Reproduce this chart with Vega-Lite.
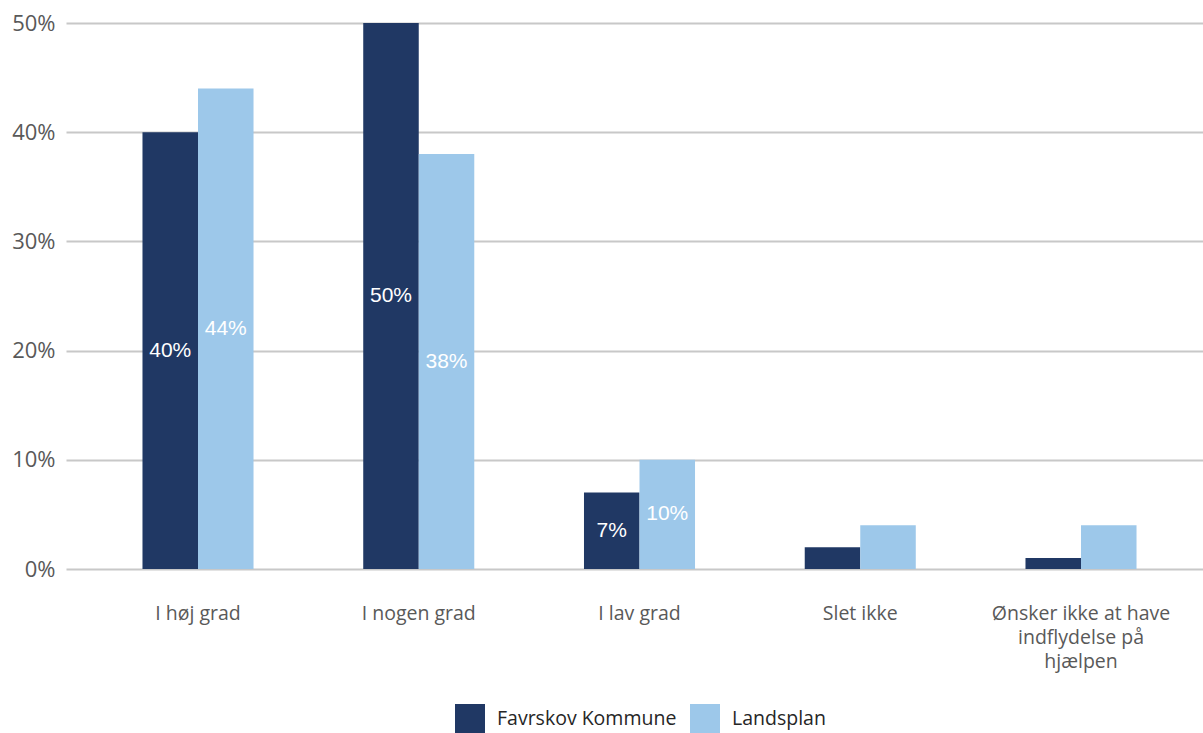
{
  "$schema": "https://vega.github.io/schema/vega-lite/v6.json",
  "autosize": "none",
  "width": 1137,
  "height": 546,
  "padding": {"left": 66, "top": 23, "right": 0, "bottom": 164},
  "background": "white",
  "config": {"view": {"stroke": null}, "font": "Open Sans"},
  "data": {
    "values": [
      {"kategori": "I høj grad", "serie": "Favrskov Kommune", "value": 40, "label": "40%"},
      {"kategori": "I høj grad", "serie": "Landsplan", "value": 44, "label": "44%"},
      {"kategori": "I nogen grad", "serie": "Favrskov Kommune", "value": 50, "label": "50%"},
      {"kategori": "I nogen grad", "serie": "Landsplan", "value": 38, "label": "38%"},
      {"kategori": "I lav grad", "serie": "Favrskov Kommune", "value": 7, "label": "7%"},
      {"kategori": "I lav grad", "serie": "Landsplan", "value": 10, "label": "10%"},
      {"kategori": "Slet ikke", "serie": "Favrskov Kommune", "value": 2, "label": ""},
      {"kategori": "Slet ikke", "serie": "Landsplan", "value": 4, "label": ""},
      {"kategori": "Ønsker ikke at have indflydelse på hjælpen", "serie": "Favrskov Kommune", "value": 1, "label": ""},
      {"kategori": "Ønsker ikke at have indflydelse på hjælpen", "serie": "Landsplan", "value": 4, "label": ""}
    ]
  },
  "encoding": {
    "x": {
      "field": "kategori",
      "type": "nominal",
      "sort": null,
      "scale": {"paddingInner": 0.497, "paddingOuter": 0.3238, "align": 0.535},
      "axis": {
        "title": null,
        "labelAngle": 0,
        "domain": false,
        "ticks": false,
        "labelFontSize": 19.5,
        "labelColor": "#595959",
        "labelPadding": 44,
        "labelLineHeight": 24,
        "labelBaseline": "middle",
        "labelLimit": 0,
        "labelExpr": "datum.label == 'Ønsker ikke at have indflydelse på hjælpen' ? ['Ønsker ikke at have', 'indflydelse på', 'hjælpen'] : datum.label"
      }
    },
    "xOffset": {"field": "serie", "type": "nominal", "sort": ["Favrskov Kommune", "Landsplan"], "scale": {"paddingInner": 0, "paddingOuter": 0}}
  },
  "layer": [
    {
      "mark": {"type": "bar"},
      "encoding": {
        "y": {
          "field": "value",
          "type": "quantitative",
          "scale": {"domain": [0, 50], "nice": false},
          "axis": {
            "title": null,
            "values": [0, 10, 20, 30, 40, 50],
            "labelExpr": "datum.value + '%'",
            "domain": false,
            "ticks": false,
            "grid": true,
            "gridColor": "#c8c8c8",
            "gridWidth": 2,
            "labelFontSize": 22,
            "labelColor": "#595959",
            "labelPadding": 11
          }
        },
        "color": {
          "field": "serie",
          "type": "nominal",
          "sort": ["Favrskov Kommune", "Landsplan"],
          "scale": {"domain": ["Favrskov Kommune", "Landsplan"], "range": ["#203864", "#9DC8EA"]},
          "legend": {
            "title": null,
            "orient": "none",
            "direction": "horizontal",
            "legendX": 389,
            "legendY": 681,
            "symbolType": "square",
            "symbolSize": 900,
            "symbolStrokeWidth": 0,
            "labelFontSize": 19.5,
            "labelLimit": 0,
            "labelColor": "#262626",
            "labelOffset": 12,
            "columnPadding": 13
          }
        }
      }
    },
    {
      "mark": {"type": "text", "color": "white", "font": "Liberation Sans", "fontSize": 21, "baseline": "middle"},
      "encoding": {
        "y": {"field": "value", "type": "quantitative", "scale": {"domain": [0, 100], "nice": false}, "axis": null},
        "text": {"field": "label"}
      }
    }
  ],
  "resolve": {"scale": {"y": "independent"}}
}
